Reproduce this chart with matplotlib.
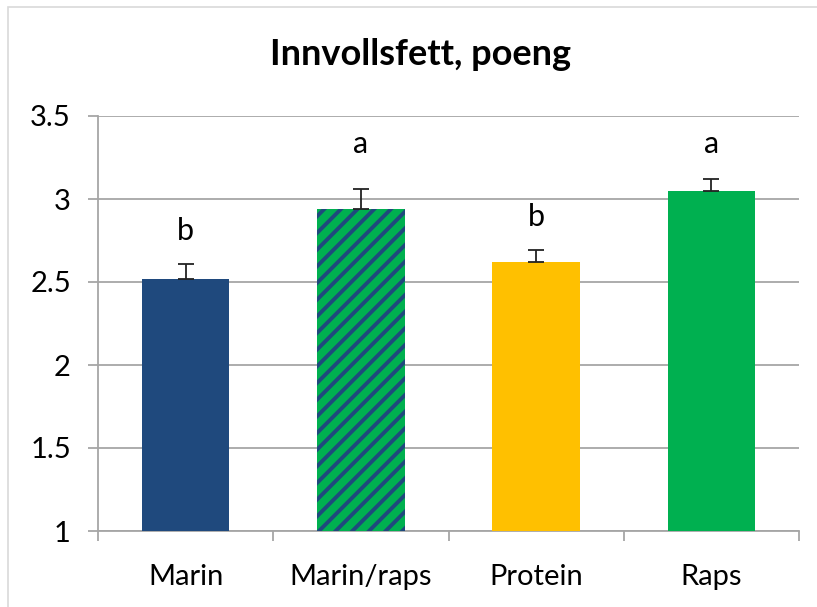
import matplotlib.pyplot as plt
from matplotlib.patches import Rectangle
from matplotlib.ticker import FixedLocator

# Feed groups and mean visceral fat score
groups = ['Marin', 'Marin/raps', 'Protein', 'Raps']
means = [2.52, 2.94, 2.62, 3.05]
errors = [0.09, 0.12, 0.07, 0.07]
sig_letters = ['b', 'a', 'b', 'a']
letter_y = [2.75, 3.275, 2.84, 3.28]

colors = ['#1F497D', '#00B050', '#FFC000', '#00B050']
hatches = ['', '//', '', '']

plt.rcParams['font.family'] = ['Lato', 'DejaVu Sans']
plt.rcParams['hatch.linewidth'] = 2.8

fig = plt.figure(figsize=(8.17, 6.07), dpi=100)
ax = fig.add_axes([98 / 817, 76 / 607, 701 / 817, 415 / 607])

# light outer chart border
fig.patches.append(Rectangle((8 / 817, -0.05), 1.0, (600 / 607) + 0.05,
                             transform=fig.transFigure, fill=False,
                             edgecolor='#d9d9d9', linewidth=1.2, zorder=0))

x = list(range(len(groups)))
for i in x:
    ax.bar(i, means[i] - 1, bottom=1, width=0.5, color=colors[i],
           hatch=hatches[i], edgecolor='#1F497D' if hatches[i] else colors[i],
           linewidth=0, zorder=3)

ax.errorbar(x, means, yerr=[[0] * len(means), errors], fmt='none',
            ecolor='#222222', elinewidth=1.3, capsize=6, capthick=1.3, zorder=4)

for i, (lab, ly) in enumerate(zip(sig_letters, letter_y)):
    ax.text(i, ly, lab, ha='center', va='baseline', fontsize=22, color='black')

ax.set_xlim(-0.5, 3.5)
ax.set_ylim(1, 3.5)
ax.set_yticks([1, 1.5, 2, 2.5, 3, 3.5])
ax.set_yticklabels(['1', '1.5', '2', '2.5', '3', '3.5'])
ax.grid(axis='y', color='#a6a6a6', linewidth=1.3, zorder=0)
ax.set_axisbelow(True)

ax.set_xticks(x)
ax.set_xticklabels(groups)
ax.xaxis.set_minor_locator(FixedLocator([-0.5, 0.5, 1.5, 2.5, 3.5]))
ax.tick_params(axis='x', which='major', length=0, pad=24, labelsize=21)
ax.tick_params(axis='x', which='minor', length=7.5, width=1.3, color='#a6a6a6')
ax.tick_params(axis='y', length=7.5, width=1.3, color='#a6a6a6', pad=12,
               labelsize=21)

for side in ['top', 'right']:
    ax.spines[side].set_visible(False)
for side in ['left', 'bottom']:
    ax.spines[side].set_color('#a6a6a6')
    ax.spines[side].set_linewidth(1.3)

fig.text(421 / 817, (607 - 65) / 607, 'Innvollsfett, poeng', ha='center',
         va='baseline', fontsize=26, fontweight='bold')

fig.savefig('out.png', dpi=100)
